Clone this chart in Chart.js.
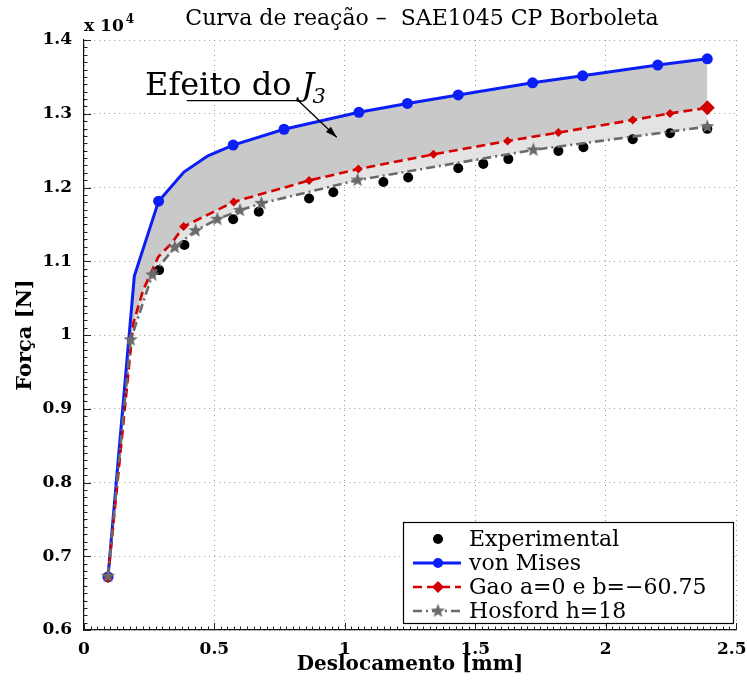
<!DOCTYPE html>
<html>
<head>
<meta charset="utf-8">
<script src="https://cdn.jsdelivr.net/npm/chart.js@4/dist/chart.umd.min.js"></script>
<style>
  html, body { margin: 0; padding: 0; background: #fff; }
  #wrap { width: 747px; height: 682px; }
</style>
</head>
<body>
<div id="wrap"><canvas id="chart" width="747" height="682"></canvas></div>
<script>
// Deslocamento [mm] vs Força [N]
const expX = [0.092, 0.288, 0.385, 0.572, 0.670, 0.863, 0.956, 1.148, 1.243, 1.435, 1.531, 1.627, 1.819, 1.915, 2.104, 2.247, 2.390];
const expY = [6720, 10880, 11220, 11570, 11670, 11850, 11935, 12075, 12135, 12260, 12320, 12385, 12495, 12545, 12655, 12735, 12795];

const vmX = [0.092, 0.193, 0.286, 0.383, 0.475, 0.572, 0.767, 1.054, 1.240, 1.435, 1.720, 1.912, 2.200, 2.390];
const vmY = [6720, 10800, 11815, 12210, 12430, 12575, 12790, 13020, 13140, 13255, 13420, 13515, 13660, 13745];
const vmMarked = [0, 2, 5, 6, 7, 8, 9, 10, 11, 12, 13];

const gaoX = [0.092, 0.189, 0.227, 0.285, 0.336, 0.382, 0.574, 0.863, 1.052, 1.340, 1.624, 1.819, 2.104, 2.247, 2.390];
const gaoY = [6700, 10160, 10610, 11060, 11245, 11470, 11805, 12095, 12250, 12450, 12630, 12745, 12915, 13005, 13080];
const gaoMarked = [0, 5, 6, 7, 8, 9, 10, 11, 12, 13, 14];

const hosX = [0.092, 0.179, 0.262, 0.348, 0.428, 0.511, 0.598, 0.680, 1.049, 1.723, 2.390];
const hosY = [6730, 9935, 10815, 11190, 11415, 11570, 11690, 11785, 12100, 12510, 12825];

const xTicks = [0, 0.5, 1, 1.5, 2, 2.5];
const xTickLabels = ['0', '0.5', '1', '1.5', '2', '2.5'];
const yTicks = [6000, 7000, 8000, 9000, 10000, 11000, 12000, 13000, 14000];
const yTickLabels = ['0.6', '0.7', '0.8', '0.9', '1', '1.1', '1.2', '1.3', '1.4'];

const seriesNames = ['Experimental', 'von Mises', 'Gao a=0 e b=\u221260.75', 'Hosford h=18'];
const titleText = 'Curva de rea\u00e7\u00e3o \u2013  SAE1045 CP Borboleta';

const BLUE = '#0a1ef5', RED = '#d40000', GREY = '#6a6a6a';
const SERIF = '"DejaVu Serif", "Liberation Serif", serif';

function pts(xs, ys) { return xs.map((x, i) => ({ x, y: ys[i] })); }

function makeStar(r, color) {
  const s = Math.ceil(r * 2 + 2);
  const c = document.createElement('canvas');
  c.width = s; c.height = s;
  const g = c.getContext('2d');
  g.fillStyle = color;
  g.beginPath();
  for (let i = 0; i < 10; i++) {
    const rr = i % 2 ? r * 0.42 : r;
    const a = -Math.PI / 2 + i * Math.PI / 5;
    const px = s / 2 + rr * Math.cos(a), py = s / 2 + rr * Math.sin(a);
    if (i) g.lineTo(px, py); else g.moveTo(px, py);
  }
  g.closePath();
  g.fill();
  return c;
}
const starImg = makeStar(7.5, GREY);

// inward ticks, legend box, annotation, title and exponent label
const overlay = {
  id: 'overlay',
  afterDraw(chart) {
    const { ctx, chartArea: ca, scales: { x, y } } = chart;
    ctx.save();

    // ticks
    ctx.strokeStyle = '#222';
    ctx.lineWidth = 1;
    ctx.beginPath();
    for (let v = 6000; v <= 14000; v += 100) {
      const py = Math.round(y.getPixelForValue(v)) + 0.5;
      const len = v % 1000 === 0 ? 7 : 3.5;
      ctx.moveTo(ca.left, py); ctx.lineTo(ca.left + len, py);
    }
    for (let i = 0; i <= 100; i++) {
      const v = i * 0.025;
      const px = Math.round(x.getPixelForValue(v)) + 0.5;
      const len = i % 20 === 0 ? 7 : 3.5;
      ctx.moveTo(px, ca.bottom); ctx.lineTo(px, ca.bottom - len);
    }
    ctx.stroke();

    // title + exponent
    ctx.fillStyle = '#000';
    ctx.font = '22px ' + SERIF;
    ctx.textAlign = 'center';
    ctx.textBaseline = 'alphabetic';
    ctx.fillText(titleText, (ca.left + ca.right) / 2 + 12, 25);
    ctx.textAlign = 'left';
    ctx.font = 'bold 17px ' + SERIF;
    ctx.fillText('x 10', ca.left, 31);
    const w10 = ctx.measureText('x 10').width;
    ctx.font = 'bold 12px ' + SERIF;
    ctx.fillText('4', ca.left + w10 + 2, 23);

    // annotation "Efeito do J3"
    const ax = x.getPixelForValue(0.234), ay = y.getPixelForValue(13255);
    ctx.font = '32px ' + SERIF;
    ctx.fillText('Efeito do ', ax, ay);
    let wx = ax + ctx.measureText('Efeito do ').width;
    ctx.font = 'italic 32px ' + SERIF;
    ctx.fillText('J', wx, ay);
    wx += ctx.measureText('J').width;
    ctx.font = 'italic 21px ' + SERIF;
    ctx.fillText('3', wx - 2, ay + 8);

    const u0 = x.getPixelForValue(0.394), u1 = x.getPixelForValue(0.822), uy = y.getPixelForValue(13177);
    const tx = x.getPixelForValue(0.969), ty = y.getPixelForValue(12681);
    ctx.strokeStyle = '#000';
    ctx.lineWidth = 1.2;
    ctx.beginPath();
    ctx.moveTo(u0, uy); ctx.lineTo(u1, uy); ctx.lineTo(tx, ty);
    ctx.stroke();
    const ang = Math.atan2(ty - uy, tx - u1);
    ctx.beginPath();
    ctx.moveTo(tx, ty);
    ctx.lineTo(tx - 12 * Math.cos(ang - 0.3), ty - 12 * Math.sin(ang - 0.3));
    ctx.lineTo(tx - 12 * Math.cos(ang + 0.3), ty - 12 * Math.sin(ang + 0.3));
    ctx.closePath();
    ctx.fillStyle = '#000';
    ctx.fill();

    // legend
    const bw = 330, bh = 101;
    const bx = ca.right - 3 - bw, by = ca.bottom - 7 - bh;
    ctx.fillStyle = '#fff';
    ctx.fillRect(bx, by, bw, bh);
    ctx.strokeStyle = '#000';
    ctx.lineWidth = 1.2;
    ctx.strokeRect(bx + 0.5, by + 0.5, bw, bh);
    ctx.font = '22px ' + SERIF;
    ctx.textBaseline = 'middle';
    chart.data.datasets.forEach((ds, i) => {
      const ry = by + 17 + i * 24;
      const lx0 = bx + 10, lx1 = bx + 58, mx = bx + 35;
      if (ds.showLine !== false) {
        ctx.save();
        ctx.strokeStyle = ds.borderColor;
        ctx.lineWidth = ds.borderWidth;
        ctx.setLineDash(ds.borderDash || []);
        ctx.beginPath(); ctx.moveTo(lx0, ry); ctx.lineTo(lx1, ry); ctx.stroke();
        ctx.restore();
      }
      const style = ds.legendStyle;
      ctx.fillStyle = ds.pointBackgroundColor;
      if (style === 'circle') {
        ctx.beginPath(); ctx.arc(mx, ry, 5, 0, Math.PI * 2); ctx.fill();
      } else if (style === 'diamond') {
        ctx.beginPath();
        ctx.moveTo(mx, ry - 6); ctx.lineTo(mx + 6, ry); ctx.lineTo(mx, ry + 6); ctx.lineTo(mx - 6, ry);
        ctx.closePath(); ctx.fill();
      } else if (style === 'star') {
        ctx.drawImage(starImg, mx - starImg.width / 2, ry - starImg.height / 2);
      }
      ctx.fillStyle = '#000';
      ctx.fillText(ds.label, bx + 66, ry + 1);
    });

    ctx.restore();
  }
};

Chart.defaults.font.family = SERIF;
Chart.defaults.color = '#000';

new Chart(document.getElementById('chart'), {
  type: 'line',
  data: {
    datasets: [
      {
        label: seriesNames[0], data: pts(expX, expY), showLine: false,
        pointRadius: 5, pointBackgroundColor: '#000', pointBorderWidth: 0,
        borderColor: '#000', legendStyle: 'circle', order: 4
      },
      {
        label: seriesNames[1], data: pts(vmX, vmY), borderColor: BLUE, borderWidth: 3,
        pointRadius: c => vmMarked.includes(c.dataIndex) ? 5.5 : 0,
        pointBackgroundColor: BLUE, pointBorderWidth: 0,
        fill: { target: 2 }, backgroundColor: '#c9c9c9', legendStyle: 'circle', order: 3
      },
      {
        label: seriesNames[2], data: pts(gaoX, gaoY), borderColor: RED, borderWidth: 2.6,
        borderDash: [9, 5], pointStyle: 'rectRot',
        pointRadius: c => gaoMarked.includes(c.dataIndex) ? (c.dataIndex === gaoX.length - 1 ? 7.5 : 4.5) : 0,
        pointBackgroundColor: RED, pointBorderWidth: 0,
        fill: { target: 3 }, backgroundColor: '#e3e3e3', legendStyle: 'diamond', order: 2
      },
      {
        label: seriesNames[3], data: pts(hosX, hosY), borderColor: GREY, borderWidth: 2.6,
        borderDash: [9, 4, 2, 4], pointStyle: starImg, pointRadius: 7,
        pointBackgroundColor: GREY, fill: false, legendStyle: 'star', order: 1
      }
    ]
  },
  options: {
    responsive: false,
    animation: false,
    devicePixelRatio: 1,
    layout: { padding: { top: 40, right: 11, left: 0, bottom: 0 } },
    plugins: {
      legend: { display: false },
      tooltip: { enabled: false },
      filler: { drawTime: 'beforeDatasetsDraw', propagate: false }
    },
    scales: {
      x: {
        type: 'linear', min: 0, max: 2.5,
        afterBuildTicks: s => { s.ticks = xTicks.map(v => ({ value: v })); },
        afterFit: s => { s.height = 52; s.paddingLeft = 0; s.paddingRight = 0; },
        // last label nudged left so it stays inside the canvas, as in the original
        ticks: { callback: (v, i) => xTickLabels[i] + (i === xTickLabels.length - 1 ? '\u2002' : ''), font: { size: 17, weight: 'bold' }, padding: 9, maxRotation: 0 },
        grid: { color: '#9a9a9a', lineWidth: 1, drawTicks: false },
        border: { display: true, color: '#111', width: 1.2, dash: [1, 4] },
        title: { display: true, text: 'Deslocamento [mm]', font: { size: 20, weight: 'bold' }, padding: { top: 0, bottom: 5 } }
      },
      y: {
        type: 'linear', min: 6000, max: 14000,
        afterBuildTicks: s => { s.ticks = yTicks.map(v => ({ value: v })); },
        afterFit: s => { s.width = 84; s.paddingTop = 0; s.paddingBottom = 0; },
        ticks: { callback: (v, i) => yTickLabels[i], font: { size: 17, weight: 'bold' }, padding: 12 },
        grid: { color: '#9a9a9a', lineWidth: 1, drawTicks: false },
        border: { display: true, color: '#111', width: 1.2, dash: [1, 4] },
        title: { display: true, text: 'For\u00e7a [N]', font: { size: 21, weight: 'bold' }, padding: { top: 13, bottom: 0 } }
      }
    }
  },
  plugins: [overlay]
});
</script>
</body>
</html>
